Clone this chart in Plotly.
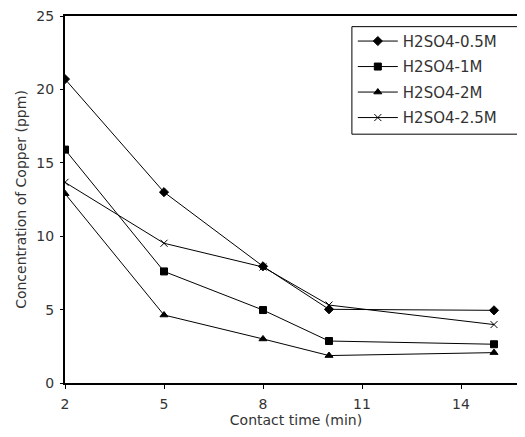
import plotly.graph_objects as go

contact_time = [2, 5, 8, 10, 15]
series_names = ["H2SO4-0.5M", "H2SO4-1M", "H2SO4-2M", "H2SO4-2.5M"]
conc_05M = [20.7, 13.0, 7.95, 5.02, 4.95]
conc_1M = [15.9, 7.6, 4.97, 2.86, 2.64]
conc_2M = [12.9, 4.63, 3.0, 1.87, 2.07]
conc_25M = [13.67, 9.52, 7.9, 5.31, 3.98]
x_ticks = [2, 5, 8, 11, 14]
y_ticks = [0, 5, 10, 15, 20, 25]

all_series = [conc_05M, conc_1M, conc_2M, conc_25M]
symbols = ["diamond", "square", "triangle-up", "x-thin"]
sizes = [7, 7, 7, 7]

fig = go.Figure()
for i, (name, vals, sym, sz) in enumerate(zip(series_names, all_series, symbols, sizes)):
    fig.add_trace(go.Scatter(
        x=contact_time, y=vals, name=name, mode="lines+markers",
        legendgroup=f"g{i}",
        line=dict(color="black", width=1),
        marker=dict(symbol=sym, size=sz, color="black",
                    line=dict(color="black", width=1)),
    ))

# legend frame (drawn as a shape so its size can match the original)
fig.add_shape(type="rect", xref="paper", yref="paper",
              x0=0.621, x1=0.985, y0=0.678, y1=0.971,
              line=dict(color="black", width=1), fillcolor="white",
              layer="above")

font_family = "DejaVu Sans, Arial, sans-serif"
fig.update_layout(
    width=525, height=437,
    margin=dict(l=57, r=6, t=8, b=62),
    plot_bgcolor="white", paper_bgcolor="white",
    font=dict(family=font_family, size=14, color="#333333"),
    showlegend=True,
    legend=dict(
        x=0.623, y=0.976, xanchor="left", yanchor="top",
        borderwidth=0, bgcolor="rgba(0,0,0,0)",
        font=dict(size=15, color="#333333"),
        tracegroupgap=3, itemwidth=40,
    ),
    xaxis=dict(
        range=[2, 16], tickvals=x_ticks, ticktext=[str(v) for v in x_ticks],
        showgrid=False, zeroline=False, automargin=False,
        showline=True, linecolor="black", linewidth=2, mirror=True,
        ticks="outside", ticklen=4, tickcolor="black",
        ticklabelstandoff=3, ticklabeloverflow="allow",
        tickfont=dict(size=14),
        title=dict(text="Contact time (min)", standoff=4, font=dict(size=14)),
    ),
    yaxis=dict(
        range=[0, 25], tickvals=y_ticks,
        showgrid=False, zeroline=False, automargin=False,
        showline=True, linecolor="black", linewidth=2,
        ticks="outside", ticklen=3, tickcolor="black",
        ticklabelstandoff=3, ticklabeloverflow="allow",
        tickfont=dict(size=14),
        title=dict(text="Concentration of Copper (ppm)", standoff=6, font=dict(size=14)),
    ),
)

fig.write_html("out.html")
